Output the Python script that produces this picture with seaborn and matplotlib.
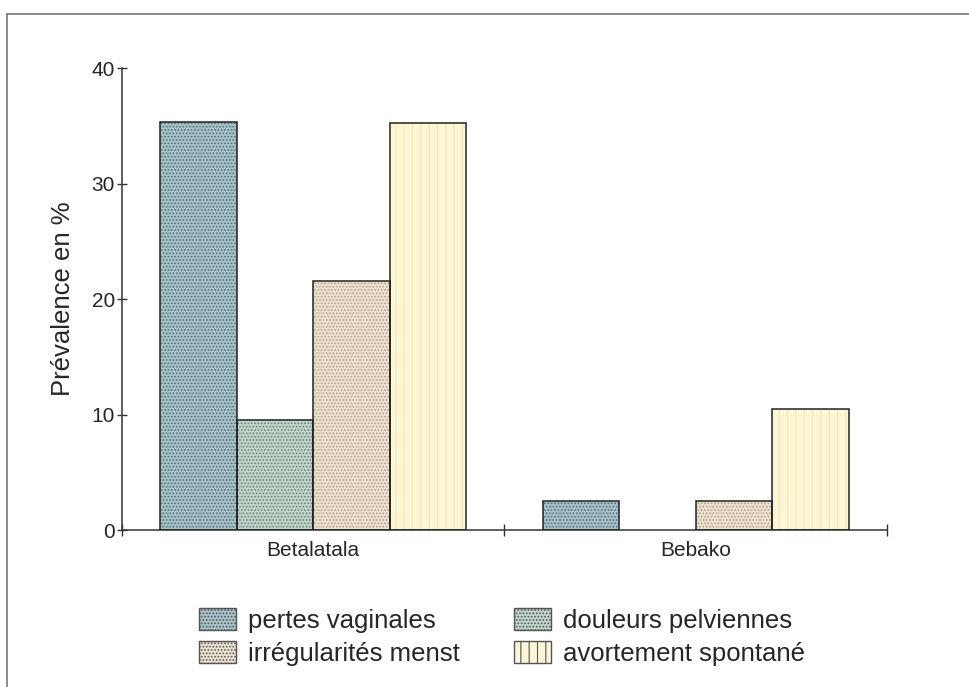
import matplotlib
matplotlib.use("Agg")
import matplotlib.pyplot as plt
import pandas as pd
import seaborn as sns
from matplotlib.patches import Patch, Rectangle

sites = ["Betalatala", "Bebako"]
symptoms = ["pertes vaginales", "douleurs pelviennes", "irrégularités menst", "avortement spontané"]
pertes = [35.3, 2.5]
douleurs = [9.5, 0.0]
irregularites = [21.6, 2.5]
avortement = [35.2, 10.5]

face_colors = ["#a6c3c9", "#c0d4ca", "#ede1d0", "#fbf6d8"]
hatch_colors = ["#566c72", "#6c8077", "#b3a086", "#f2e8a8"]
hatches = [".....", ".....", ".....", "||"]


def build_frame():
	rows = []
	for name, values in zip(symptoms, [pertes, douleurs, irregularites, avortement]):
		for site, v in zip(sites, values):
			rows.append({"site": site, "symptome": name, "valeur": v})
	return pd.DataFrame(rows)


def main():
	sns.set_style("white")
	plt.rcParams["font.family"] = ["Liberation Sans", "DejaVu Sans"]
	plt.rcParams["hatch.linewidth"] = 0.8

	df = build_frame()

	fig = plt.figure(figsize=(9.7, 6.87), dpi=100)
	ax = fig.add_axes([0.1258, 0.2285, 0.7886, 0.6725])

	sns.barplot(
		data=df, x="site", y="valeur", hue="symptome",
		order=sites, hue_order=symptoms, width=0.8,
		dodge=True, ax=ax, legend=False,
	)

	# style par série : fond, pointillé, puis contour noir par-dessus
	for i, cont in enumerate(ax.containers):
		for bar in cont:
			bar.set_facecolor(face_colors[i])
			bar.set_edgecolor(hatch_colors[i])
			bar.set_hatch(hatches[i])
			bar.set_linewidth(0)
			if bar.get_height() > 0:
				ax.add_patch(Rectangle(
					bar.get_xy(), bar.get_width(), bar.get_height(),
					fill=False, edgecolor="#222222", linewidth=1.1, zorder=3,
				))

	ax.set_xlim(-0.5, 1.5)
	ax.set_ylim(0, 40)
	ax.set_yticks([0, 10, 20, 30, 40])
	ax.set_xticks([0, 1])
	ax.set_xticklabels(sites)
	ax.set_xticks([-0.5, 0.5, 1.5], minor=True)
	ax.tick_params(left=True, bottom=True, which="both")
	ax.tick_params(axis="x", which="major", length=0, labelsize=15, pad=8)
	ax.tick_params(axis="x", which="minor", length=9, direction="inout", width=1, color="#333333")
	ax.tick_params(axis="y", length=7, direction="inout", width=1, color="#333333", labelsize=15, pad=1.5)
	ax.set_xlabel("")
	ax.set_ylabel("Prévalence en %", fontsize=18.5, labelpad=12)

	sns.despine(ax=ax)
	for side in ["left", "bottom"]:
		ax.spines[side].set_color("#333333")
		ax.spines[side].set_linewidth(1.1)

	handles = []
	for i in range(len(symptoms)):
		handles.append(Patch(
			facecolor=face_colors[i], edgecolor=hatch_colors[i], hatch=hatches[i],
			linewidth=0, label=symptoms[i],
		))
	# ordre ligne par ligne comme dans l'original
	order = [0, 2, 1, 3]
	leg = fig.legend(
		[handles[k] for k in order], [symptoms[k] for k in order],
		loc="center", bbox_to_anchor=(0.5175, 0.073), ncol=2, frameon=False,
		fontsize=18.5, handlelength=1.45, handleheight=0.95, handletextpad=0.47,
		columnspacing=2.1, labelspacing=0.33, borderpad=0.2,
	)
	for h in leg.legend_handles:
		h.set_linewidth(1.0)
		h.set_edgecolor("#555555")

	fig.patches.append(Rectangle(
		(0.007, -0.02), 1.1, 1.0 - 14 / 687 + 0.02,
		transform=fig.transFigure, fill=False, edgecolor="#777777", linewidth=1.2,
	))

	fig.savefig("out.png", dpi=100)
	plt.close(fig)


if __name__ == "__main__":
	main()
